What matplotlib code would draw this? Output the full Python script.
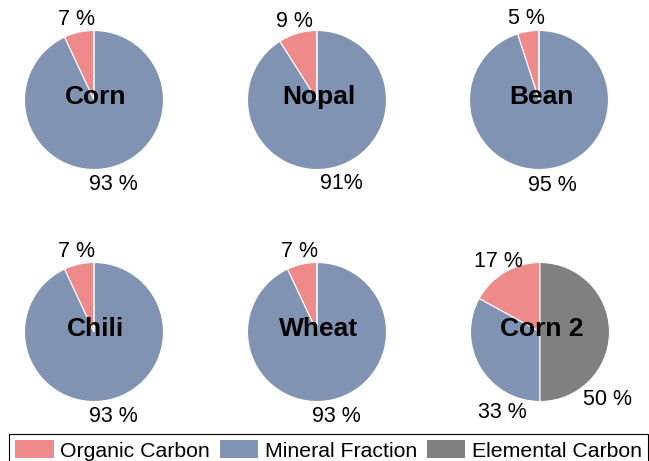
import numpy as np
import matplotlib.pyplot as plt

plt.rcParams['font.family'] = ['Liberation Sans', 'DejaVu Sans']

# data
samples = ['Corn', 'Nopal', 'Bean', 'Chili', 'Wheat', 'Corn 2']
components = ['Organic Carbon', 'Mineral Fraction', 'Elemental Carbon']
organic = [7, 9, 5, 7, 7, 17]
mineral = [93, 91, 95, 93, 93, 33]
elemental = [0, 0, 0, 0, 0, 50]
pct_labels = [['7 %', '93 %', ''],
              ['9 %', '91%', ''],
              ['5 %', '95 %', ''],
              ['7 %', '93 %', ''],
              ['7 %', '93 %', ''],
              ['17 %', '33 %', '50 %']]

colors = ['#EE8A8A', '#8093B3', '#808080']

# layout (pixels, y up)
W, H = 649, 461
centers = [(94, 361), (317, 361), (539, 361),
           (94, 129), (317, 129), (540, 129)]
radius = 69.5
label_dist = [1.18, 1.25, 1.25]
# manual label placement overrides (angle deg, distance in radii)
overrides = {5: {1: (245, 1.28), 2: (315, 1.38)}}

fig = plt.figure(figsize=(W / 100, H / 100), dpi=100)
ax = fig.add_axes([0, 0, 1, 1])
ax.set_xlim(0, W)
ax.set_ylim(0, H)
ax.set_aspect('equal')
ax.axis('off')

for i, name in enumerate(samples):
    vals = [organic[i], mineral[i], elemental[i]]
    wedges, _ = ax.pie(vals, colors=colors, startangle=90, counterclock=True,
                       center=centers[i], radius=radius, normalize=True,
                       wedgeprops=dict(edgecolor='white', linewidth=0.8))
    cx, cy = centers[i]
    for j, w in enumerate(wedges):
        if vals[j] == 0:
            continue
        ang = (w.theta1 + w.theta2) / 2
        dist = label_dist[j]
        if i in overrides and j in overrides[i]:
            ang, dist = overrides[i][j]
        x = cx + dist * radius * np.cos(np.radians(ang))
        y = cy + dist * radius * np.sin(np.radians(ang))
        ax.text(x, y, pct_labels[i][j], ha='center', va='center', fontsize=15.5)
    ax.text(cx + 2, cy + 3, name, ha='center', va='center', fontsize=19, fontweight='bold')

ax.set_xlim(0, W)
ax.set_ylim(0, H)

handles = [plt.Rectangle((0, 0), 1, 1, facecolor=c, edgecolor='none') for c in colors]
leg = fig.legend(handles, components, ncol=3, loc='upper left',
                 bbox_to_anchor=(9 / W, 1 - 434 / H), fontsize=15.3,
                 handlelength=1.8, handleheight=0.9, handletextpad=0.32,
                 columnspacing=0.45, borderpad=0.3, borderaxespad=0,
                 fancybox=False, framealpha=1, edgecolor='black')
leg.get_frame().set_linewidth(0.8)

fig.savefig('out.png', dpi=100)
